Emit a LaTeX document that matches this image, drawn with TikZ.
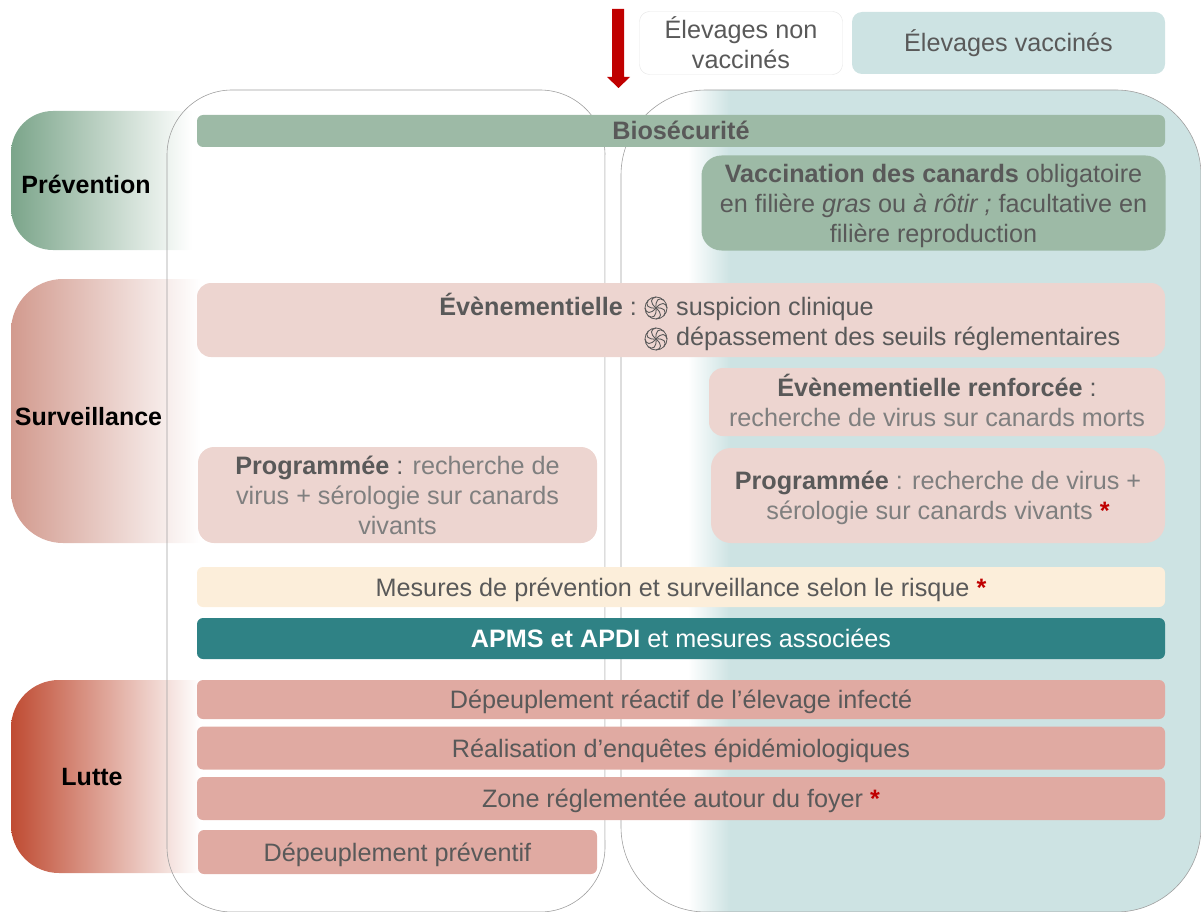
\documentclass[tikz,border=0pt]{standalone}
\usepackage{fontspec}
\setmainfont{Liberation Sans}
\definecolor{txt}{HTML}{595959}
\definecolor{txtl}{HTML}{7F7F7F}
\definecolor{bio}{HTML}{9DBAA6}
\definecolor{pinkb}{HTML}{EDD5D0}
\definecolor{creamb}{HTML}{FCEEDA}
\definecolor{tealb}{HTML}{2F8285}
\definecolor{lutb}{HTML}{E0AAA2}
\definecolor{vacc}{HTML}{CDE3E3}
\definecolor{dred}{HTML}{C00000}
\definecolor{gprev}{HTML}{7BA58A}
\definecolor{gsurv}{HTML}{D29A8E}
\definecolor{glut}{HTML}{BF4B32}
\definecolor{outl}{HTML}{A0A0A0}
\tikzset{
  bar/.style={rounded corners=#1,inner sep=0pt,outer sep=0pt,align=center,text=txt,text depth=0pt,font=\fontsize{25.2}{30}\selectfont},
  bar/.default=6pt,
  oneline/.style={text height=18pt,text depth=0pt},
  sidelab/.style={inner sep=0pt,text=black,font=\fontsize{25}{29}\selectfont\bfseries},
  freetext/.style={text=txt,inner sep=0pt,font=\fontsize{25.2}{30}\selectfont},
  frameb/.style={draw=outl,line width=0.6pt,rounded corners=#1},
  spiral/.pic={
    \foreach \a in {0,45,...,315}
      \draw[rotate=\a,txt,line width=0.9pt] (0,0) .. controls (5,-6) and (10,-6) .. (11,0);
    \draw[txt,line width=0.8pt] (0,0) circle[radius=11];
  }
}
\begin{document}
\begin{tikzpicture}[x=1pt,y=-1pt]
\useasboundingbox (0,0) rectangle (1201,912);
% side gradients
\shade[left color=gprev,right color=white] (192,111) [rounded corners=42pt] -- (11,111) -- (11,250) [sharp corners] -- (192,250) -- cycle;
\shade[left color=gsurv,right color=white] (200,279) [rounded corners=52pt] -- (11,279) -- (11,543) [sharp corners] -- (200,543) -- cycle;
\shade[left color=glut,right color=white] (200,680) [rounded corners=48pt] -- (11,680) -- (11,873) [sharp corners] -- (200,873) -- cycle;
% right panel
\begin{scope}
\clip[rounded corners=85pt] (621,90) rectangle (1201,912);
\shade[left color=white,right color=vacc] (688,85) rectangle (730,915);
\fill[vacc] (729.5,85) rectangle (1205,915);
\end{scope}
\draw[frameb=65pt] (167,90) rectangle (605,912);
\draw[white,opacity=.45,line width=1pt] (605,155) -- (605,840);
\draw[frameb=85pt] (621,90) rectangle (1201,912);
% arrow
\fill[dred] (612,9) -- (624,9) -- (624,77) -- (630,77) -- (618.5,88) -- (607,77) -- (612,77) -- cycle;
% legend
\node[bar=10pt,draw=black!10,fill=white,minimum width=203pt,minimum height=63pt] (nonv) at (741,43) {Élevages non\\vaccinés};
\node[bar=10pt,oneline,fill=vacc,minimum width=313pt,minimum height=62pt] (vac) at (1008.5,43) {Élevages vaccinés};
% side labels
\node[sidelab] (prev) at (86,184) {Prévention};
\node[sidelab] (surv) at (88.5,417) {Surveillance};
\node[sidelab] (lut) at (92,777) {Lutte};
% bars
\node[bar,oneline,fill=bio,minimum width=968pt,minimum height=32pt] (bios) at (681,131) {\bfseries Biosécurité};
\node[bar=20pt,fill=bio,minimum width=464pt,minimum height=95pt] (vaccd) at (933.5,203) {\textbf{Vaccination des canards} obligatoire\\en filière \textit{gras} ou \textit{à rôtir ;} facultative en\\filière reproduction};
\node[bar=14pt,fill=pinkb,minimum width=968pt,minimum height=74pt] (even) at (681,320) {};
\node[freetext,anchor=base east] (evt) at (637,315) {\textbf{Évènementielle} :};
\node[freetext,anchor=base west] (ev1) at (676,315) {suspicion clinique};
\node[freetext,anchor=base west] (ev2) at (676,345) {dépassement des seuils réglementaires};
\pic at (656,308) {spiral};
\pic at (656,339) {spiral};
\node[bar=14pt,text depth=3pt,fill=pinkb,text=txtl,minimum width=456pt,minimum height=68pt] (evr) at (937,402) {\textcolor{txt}{\textbf{Évènementielle renforcée}} \textcolor{txt}{:}\\recherche de virus sur canards morts};
\node[bar=16pt,fill=pinkb,text=txtl,minimum width=399pt,minimum height=96pt] (prog1) at (397.5,495) {\textcolor{txt}{\textbf{Programmée} :} recherche de\\virus + sérologie sur canards\\vivants};
\node[bar=20pt,fill=pinkb,text=txtl,minimum width=454pt,minimum height=95pt] (prog2) at (938,495.5) {\textcolor{txt}{\textbf{Programmée}} : recherche de virus +\\sérologie sur canards vivants \textcolor{dred}{\textbf{*}}};
\node[bar,oneline,fill=creamb,minimum width=968pt,minimum height=40pt] (mes) at (681,587) {Mesures de prévention et surveillance selon le risque \textcolor{dred}{\textbf{*}}};
\node[bar,oneline,fill=tealb,text=white,minimum width=968pt,minimum height=41pt] (apms) at (681,638.5) {\textbf{APMS et APDI} et mesures associées};
\node[bar,oneline,fill=lutb,minimum width=968pt,minimum height=39pt] (dep) at (681,699.5) {Dépeuplement réactif de l’élevage infecté};
\node[bar,oneline,fill=lutb,minimum width=968pt,minimum height=43pt] (enq) at (681,748) {Réalisation d’enquêtes épidémiologiques};
\node[bar,oneline,fill=lutb,minimum width=968pt,minimum height=43pt] (zone) at (681,798.5) {Zone réglementée autour du foyer \textcolor{dred}{\textbf{*}}};
\node[bar,oneline,fill=lutb,minimum width=399pt,minimum height=44pt] (depp) at (397.5,852) {Dépeuplement préventif};
\end{tikzpicture}
\end{document}
